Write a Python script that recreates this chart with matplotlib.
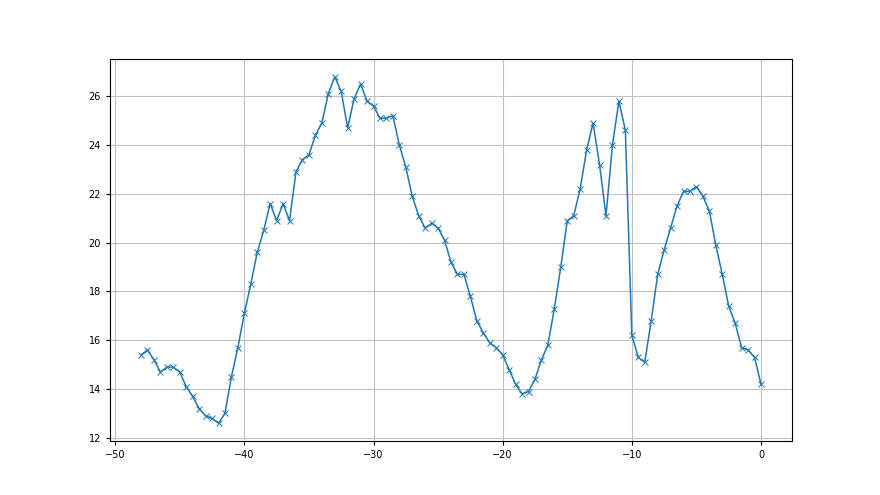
import numpy as np
import matplotlib
matplotlib.use("Agg")
import matplotlib.pyplot as plt

# sample positions, every half unit from -48 to 0
x = np.arange(-48, 0.5, 0.5)

y = [15.4, 15.6, 15.2, 14.7, 14.9, 14.9, 14.7, 14.1, 13.7, 13.2,
     12.9, 12.8, 12.6, 13.0, 14.5, 15.7, 17.1, 18.3, 19.6, 20.5,
     21.6, 20.9, 21.6, 20.9, 22.9, 23.4, 23.6, 24.4, 24.9, 26.1,
     26.8, 26.2, 24.7, 25.9, 26.5, 25.8, 25.6, 25.1, 25.1, 25.2,
     24.0, 23.1, 21.9, 21.1, 20.6, 20.8, 20.6, 20.1, 19.2, 18.7,
     18.7, 17.8, 16.8, 16.3, 15.9, 15.7, 15.4, 14.8, 14.2, 13.8,
     13.9, 14.4, 15.2, 15.8, 17.3, 19.0, 20.9, 21.1, 22.2, 23.8,
     24.9, 23.2, 21.1, 24.0, 25.8, 24.6, 16.2, 15.3, 15.1, 16.8,
     18.7, 19.7, 20.6, 21.5, 22.1, 22.1, 22.3, 21.9, 21.3, 19.9,
     18.7, 17.4, 16.7, 15.7, 15.6, 15.3, 14.2]

fig, ax = plt.subplots(figsize=(8.8, 4.95), dpi=100)
ax.plot(x, y, marker="x", markersize=4, markeredgewidth=0.7,
        linewidth=1.1, color="#1f77b4")
ax.grid(True, color="#c0c0c0", linewidth=0.8)
ax.tick_params(labelsize=7, length=3)
ax.set_yticks([12, 14, 16, 18, 20, 22, 24, 26])

fig.savefig("out.png")
